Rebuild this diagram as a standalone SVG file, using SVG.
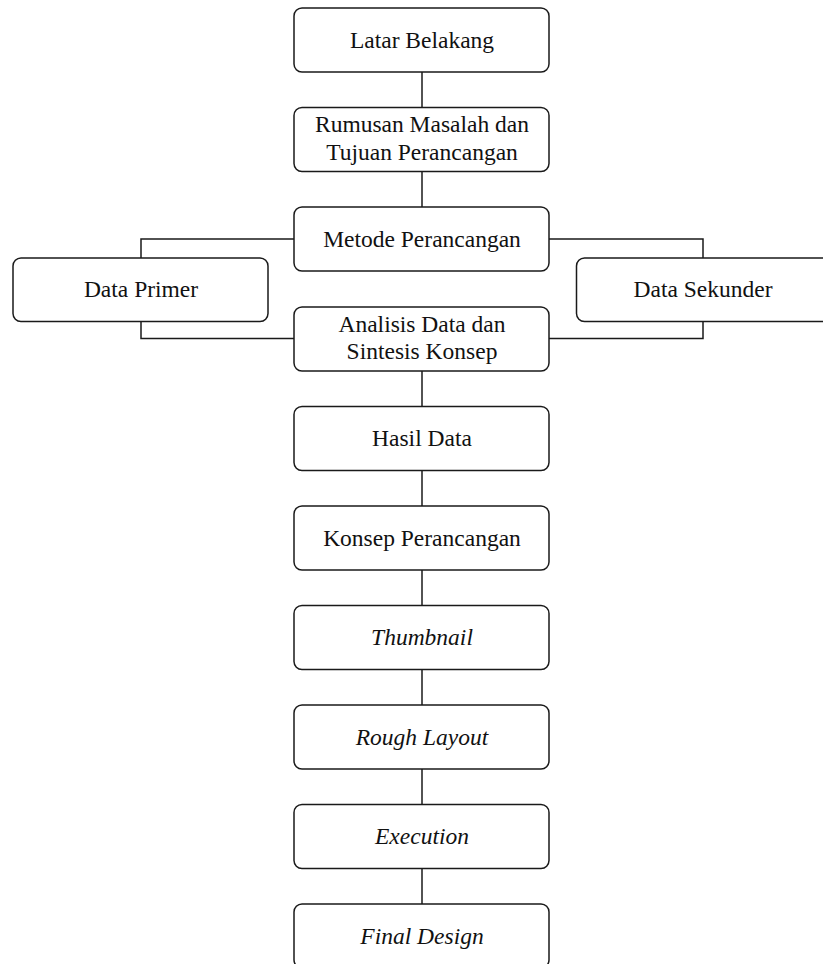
<svg xmlns="http://www.w3.org/2000/svg" width="823" height="964" viewBox="0 0 823 964">
<style>
.box{fill:#fff;stroke:#1a1a1a;stroke-width:1.5}
.lbl{font-family:"Liberation Serif","Times New Roman",serif;font-size:23.5px;fill:#111;text-anchor:middle}
.it{font-style:italic}
.con{fill:none;stroke:#1a1a1a;stroke-width:1.5}
</style>
<rect width="823" height="964" fill="#fff"/>
<g id="connectors">
<line class="con" x1="422" y1="72" x2="422" y2="107.5"/>
<line class="con" x1="422" y1="171.5" x2="422" y2="207"/>
<line class="con" x1="422" y1="371" x2="422" y2="406.5"/>
<line class="con" x1="422" y1="470.5" x2="422" y2="506"/>
<line class="con" x1="422" y1="570" x2="422" y2="605.5"/>
<line class="con" x1="422" y1="669.5" x2="422" y2="705"/>
<line class="con" x1="422" y1="769" x2="422" y2="804.5"/>
<line class="con" x1="422" y1="868.5" x2="422" y2="904"/>
<polyline class="con" points="294,239 141,239 141,258"/>
<polyline class="con" points="141,321.5 141,338.5 294,338.5"/>
<polyline class="con" points="549,239 703,239 703,258"/>
<polyline class="con" points="703,321.5 703,338.5 549,338.5"/>
</g>
<g id="latar-belakang"><rect class="box" x="294" y="8" width="255" height="64" rx="8"/><text class="lbl" x="422" y="47.5">Latar Belakang</text></g>
<g id="rumusan-masalah"><rect class="box" x="294" y="107.5" width="255" height="64" rx="8"/><text class="lbl" x="422" y="132">Rumusan Masalah dan</text><text class="lbl" x="422" y="159.5">Tujuan Perancangan</text></g>
<g id="metode-perancangan"><rect class="box" x="294" y="207" width="255" height="64" rx="8"/><text class="lbl" x="422" y="246.5">Metode Perancangan</text></g>
<g id="data-primer"><rect class="box" x="13" y="258" width="255" height="63.5" rx="8"/><text class="lbl" x="141" y="297">Data Primer</text></g>
<g id="data-sekunder"><rect class="box" x="576.5" y="258" width="256" height="63.5" rx="8"/><text class="lbl" x="703" y="297">Data Sekunder</text></g>
<g id="analisis-data"><rect class="box" x="294" y="307" width="255" height="64" rx="8"/><text class="lbl" x="422" y="332">Analisis Data dan</text><text class="lbl" x="422" y="359">Sintesis Konsep</text></g>
<g id="hasil-data"><rect class="box" x="294" y="406.5" width="255" height="64" rx="8"/><text class="lbl" x="422" y="446">Hasil Data</text></g>
<g id="konsep-perancangan"><rect class="box" x="294" y="506" width="255" height="64" rx="8"/><text class="lbl" x="422" y="545.5">Konsep Perancangan</text></g>
<g id="thumbnail"><rect class="box" x="294" y="605.5" width="255" height="64" rx="8"/><text class="lbl it" x="422" y="645">Thumbnail</text></g>
<g id="rough-layout"><rect class="box" x="294" y="705" width="255" height="64" rx="8"/><text class="lbl it" x="422" y="744.5">Rough Layout</text></g>
<g id="execution"><rect class="box" x="294" y="804.5" width="255" height="64" rx="8"/><text class="lbl it" x="422" y="844">Execution</text></g>
<g id="final-design"><rect class="box" x="294" y="904" width="255" height="64" rx="8"/><text class="lbl it" x="422" y="943.5">Final Design</text></g>
</svg>
